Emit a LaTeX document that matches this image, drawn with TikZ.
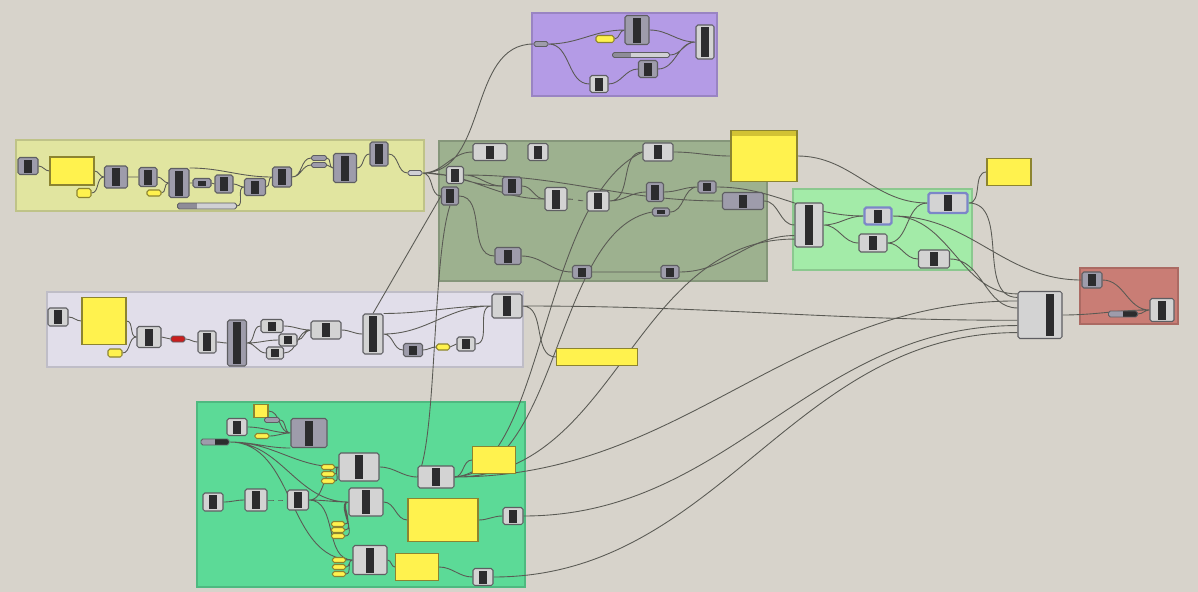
\documentclass[tikz,border=0pt]{standalone}
\definecolor{canvas}{HTML}{D7D3CB}
\definecolor{wirec}{HTML}{5A5A54}
\definecolor{compfill}{HTML}{D3D3D3}
\definecolor{compdark}{HTML}{9E9CAB}
\definecolor{compline}{HTML}{5E5E62}
\definecolor{stripc}{HTML}{2C2C2E}
\definecolor{panelc}{HTML}{FFF24E}
\definecolor{panelline}{HTML}{8C8430}
\definecolor{panelhead}{HTML}{D2C234}
\definecolor{sliderc}{HTML}{D0D0D4}
\definecolor{sliderdk}{HTML}{8E8C98}
\definecolor{redpar}{HTML}{C81E1E}
\definecolor{selc}{HTML}{7C86C8}
\definecolor{grpyellow}{HTML}{E1E5A0}
\definecolor{grpdkgreen}{HTML}{9DB18F}
\definecolor{grppurple}{HTML}{B49BE6}
\definecolor{grplavender}{HTML}{E1DEEA}
\definecolor{grpgreen}{HTML}{5CDA97}
\definecolor{grplight}{HTML}{A3EBA8}
\definecolor{grpred}{HTML}{C97D75}
\pgfdeclarelayer{back}
\pgfdeclarelayer{wires}
\pgfsetlayers{back,wires,main}
\tikzset{
  sz/.style 2 args={minimum width=#1*0.02cm, minimum height=#2*0.02cm},
  grp/.style={fill=#1, draw=#1!85!black, line width=0.6pt},
  comp/.style={draw=compline, fill=compfill, line width=0.6pt, rounded corners=1pt, inner sep=0pt,
    path picture={\fill[stripc, sharp corners] ([xshift=-0.075cm,yshift=0.04cm]path picture bounding box.south)
      rectangle ([xshift=0.075cm,yshift=-0.04cm]path picture bounding box.north);}},
  compd/.style={comp, fill=compdark},
  compr/.style={comp, path picture={\fill[stripc, sharp corners] ([xshift=0.12cm,yshift=0.05cm]path picture bounding box.south)
      rectangle ([xshift=0.28cm,yshift=-0.05cm]path picture bounding box.north);}},
  sel/.style={draw=selc, line width=1.3pt},
  panel/.style={draw=panelline, fill=panelc, line width=0.6pt, inner sep=0pt},
  hpanel/.style={panel, path picture={\fill[panelhead] (path picture bounding box.north west)
      rectangle ([yshift=-0.1cm]path picture bounding box.north east);}},
  ypar/.style={panel, rounded corners=1pt},
  gpar/.style={draw=compline, fill=compdark, line width=0.5pt, rounded corners=1pt, inner sep=0pt},
  lpar/.style={gpar, fill=sliderc},
  rpar/.style={gpar, fill=redpar},
  kpar/.style={gpar, path picture={\fill[stripc, sharp corners] (path picture bounding box.south)
      rectangle (path picture bounding box.north east);}},
  slider/.style={gpar, fill=sliderc, path picture={\fill[sliderdk, sharp corners] (path picture bounding box.south west)
      rectangle ([xshift=-0.2cm]path picture bounding box.north);}},
  wire/.style={draw=wirec, line width=0.5pt, out=0, in=180}
}
\begin{document}
\begin{tikzpicture}[x=0.02cm,y=-0.02cm]
  % canvas and groups
  \begin{pgfonlayer}{back}
  \fill[canvas] (0,0) rectangle (1198,592);
  \filldraw[grp=grpyellow] (16,140) rectangle (424,211);
  \filldraw[grp=grpdkgreen] (439,141) rectangle (767,281);
  \filldraw[grp=grppurple] (532,13) rectangle (717,96);
  \filldraw[grp=grplavender] (47,292) rectangle (523,367);
  \filldraw[grp=grpgreen] (197,402) rectangle (525,587);
  \filldraw[grp=grplight] (793,189) rectangle (972,270);
  \filldraw[grp=grpred] (1080,268) rectangle (1178,324);
  \end{pgfonlayer}

  % yellow group
  \node[compd, sz={20}{17}] (y1) at (28,166) {};
  \node[panel, sz={44}{28}] (ypan) at (72,171) {};
  \node[ypar, sz={14}{9}] (ysm1) at (84,193) {};
  \node[compd, sz={23}{22}] (y2) at (116,177) {};
  \node[compd, sz={18}{19}] (y3) at (148,177) {};
  \node[ypar, sz={14}{6}] (ysm2) at (154,193) {};
  \node[compd, sz={20}{29}] (y4) at (179,183) {};
  \node[compd, sz={18}{9}] (y5) at (202,183) {};
  \node[compd, sz={18}{18}] (y6) at (224,184) {};
  \node[compd, sz={21}{17}] (y7) at (255,187) {};
  \node[slider, sz={59}{6}] (yslide) at (207,206) {};
  \node[compd, sz={19}{20}] (y8) at (282,177) {};
  \node[gpar, sz={15}{5}] (yp1) at (319,158) {};
  \node[gpar, sz={15}{5}] (yp2) at (319,165) {};
  \node[compd, sz={23}{29}] (y9) at (345,168) {};
  \node[compd, sz={18}{24}] (y10) at (379,154) {};
  \node[lpar, sz={14}{5}] (yout) at (415,173) {};

  % dark green group
  \node[comp, sz={34}{17}] (g1) at (490,152) {};
  \node[comp, sz={20}{17}] (g2) at (538,152) {};
  \node[comp, sz={30}{18}] (g3) at (658,152) {};
  \node[comp, sz={17}{17}] (g4) at (455,175) {};
  \node[compd, sz={17}{18}] (g5) at (450,196) {};
  \node[compd, sz={19}{18}] (g6) at (512,186) {};
  \node[comp, sz={22}{23}] (g7) at (556,199) {};
  \node[comp, sz={22}{20}] (g8) at (598,201) {};
  \node[compd, sz={17}{19}] (g9) at (655,192) {};
  \node[compd, sz={18}{12}] (g10) at (707,187) {};
  \node[compd, sz={17}{8}] (g11) at (661,212) {};
  \node[compd, sz={41}{17}] (g12) at (743,201) {};
  \node[compd, sz={26}{17}] (g13) at (508,256) {};
  \node[compd, sz={19}{13}] (g14) at (582,272) {};
  \node[compd, sz={18}{13}] (g15) at (670,272) {};
  \node[hpanel, sz={66}{51}] (gpan) at (764,156) {};

  % purple group
  \node[gpar, sz={14}{5}] (p0) at (541,44) {};
  \node[compd, sz={24}{29}] (p1) at (637,30) {};
  \node[ypar, sz={18}{7}] (psm) at (605,39) {};
  \node[comp, sz={18}{34}] (p2) at (705,42) {};
  \node[slider, sz={57}{5}] (pslide) at (641,55) {};
  \node[compd, sz={19}{17}] (p3) at (648,69) {};
  \node[comp, sz={18}{17}] (p4) at (599,84) {};

  % lavender group
  \node[comp, sz={20}{18}] (l1) at (58,317) {};
  \node[panel, sz={44}{47}] (lpan) at (104,321) {};
  \node[ypar, sz={14}{8}] (lsm1) at (115,353) {};
  \node[comp, sz={24}{21}] (l2) at (149,337) {};
  \node[rpar, sz={14}{6}] (lred) at (178,339) {};
  \node[comp, sz={18}{22}] (l3) at (207,342) {};
  \node[compd, sz={19}{46}] (l4) at (237,343) {};
  \node[comp, sz={22}{13}] (l5) at (272,326) {};
  \node[comp, sz={18}{12}] (l6) at (288,340) {};
  \node[comp, sz={17}{12}] (l7) at (275,353) {};
  \node[comp, sz={30}{18}] (l8) at (326,330) {};
  \node[comp, sz={20}{40}] (l9) at (373,334) {};
  \node[compd, sz={19}{13}] (l10) at (413,350) {};
  \node[ypar, sz={13}{6}] (lsm2) at (443,347) {};
  \node[comp, sz={18}{14}] (l11) at (466,344) {};
  \node[comp, sz={30}{24}] (l12) at (507,306) {};
  \node[panel, sz={81}{17}] (lpan2) at (597,357) {};

  % bright green group
  \node[panel, sz={14}{13}] (bsm1) at (261,411) {};
  \node[gpar, sz={15}{5}] (bp1) at (272,420) {};
  \node[comp, sz={20}{17}] (b1) at (237,427) {};
  \node[compd, sz={36}{29}] (b2) at (309,433) {};
  \node[ypar, sz={14}{5}] (bsm2) at (262,436) {};
  \node[kpar, sz={28}{6}] (bin) at (215,442) {};
  \node[comp, sz={40}{28}] (b3) at (359,467) {};
  \node[ypar, sz={13}{5}] (bs1) at (328,467) {};
  \node[ypar, sz={13}{5}] (bs2) at (328,474) {};
  \node[ypar, sz={13}{5}] (bs3) at (328,481) {};
  \node[comp, sz={36}{22}] (b4) at (436,477) {};
  \node[panel, sz={43}{27}] (bpan1) at (494,460) {};
  \node[comp, sz={20}{18}] (b5) at (213,502) {};
  \node[comp, sz={22}{22}] (b6) at (256,500) {};
  \node[comp, sz={21}{20}] (b7) at (298,500) {};
  \node[comp, sz={34}{28}] (b8) at (366,502) {};
  \node[ypar, sz={13}{5}] (bs4) at (338,524) {};
  \node[ypar, sz={13}{5}] (bs5) at (338,530) {};
  \node[ypar, sz={13}{5}] (bs6) at (338,536) {};
  \node[panel, sz={70}{43}] (bpan2) at (443,520) {};
  \node[comp, sz={20}{17}] (b9) at (513,516) {};
  \node[comp, sz={34}{29}] (b10) at (370,560) {};
  \node[ypar, sz={13}{5}] (bs7) at (339,560) {};
  \node[ypar, sz={13}{5}] (bs8) at (339,567) {};
  \node[ypar, sz={13}{5}] (bs9) at (339,574) {};
  \node[panel, sz={43}{27}] (bpan3) at (417,567) {};
  \node[comp, sz={20}{17}] (b11) at (483,577) {};

  % light green group and output
  \node[comp, sz={28}{44}] (n1) at (809,225) {};
  \node[comp, sel, sz={27}{17}] (n2) at (878,216) {};
  \node[comp, sz={28}{18}] (n3) at (873,243) {};
  \node[comp, sel, sz={39}{20}] (n4) at (948,203) {};
  \node[comp, sz={31}{18}] (n5) at (934,259) {};
  \node[panel, sz={44}{27}] (npan) at (1009,172) {};
  \node[compr, sz={44}{47}] (merge) at (1040,315) {};

  % red group
  \node[compd, sz={20}{16}] (r1) at (1092,280) {};
  \node[kpar, sz={29}{6}] (r2) at (1123,314) {};
  \node[comp, sz={24}{23}] (r3) at (1162,310) {};

  \begin{pgfonlayer}{wires}
  % wires, yellow group
  \draw[wire] (y1.east) to (ypan.west) (ypan.east) to (y2.west) (ysm1.east) to (y2.west)
    (y2.east) to (y3.west) (y3.east) to (y4.west) (ysm2.east) to (y4.west)
    (y4.east) to (y5.west) (y5.east) to (y6.west) (y6.east) to (y7.west)
    (yslide.east) to (y7.west) (y4.north east) to (y8.west) (y7.east) to (y8.west)
    (y8.east) to (yp1.west) (y8.east) to (yp2.west) (yp1.east) to (y9.west)
    (yp2.east) to (y9.west) (y9.east) to (y10.west) (y10.east) to (yout.west);
  \draw[wire] (yout.east) to (g4.west) (yout.east) to (g6.west) (yout.east) to (g7.west)
    (yout.east) to (g1.west) (yout.east) to (g5.west) (yout.east) to (p0.west);
  % wires, dark green group
  \draw[wire] (g4.east) to (g6.west) (g6.east) to (g7.west) (g8.east) to (g9.west)
    (g9.east) to (g10.west) (g8.east) to (g3.west) (g3.east) to (gpan.west)
    (g11.east) to (g10.west) (g4.east) to (g12.west) (g12.east) to (n1.west)
    (g5.east) to (g13.west) (g13.east) to (g14.west) (g14.east) to (g15.west)
    (g15.east) to ([yshift=-6pt]n1.west) (g10.east) to (n2.west) (gpan.east) to (n4.west);
  \draw[wire, dashed] (g7.east) to (g8.west);
  % wires, purple group
  \draw[wire] (p0.east) to (p1.west) (p0.east) to (p4.west) (psm.east) to (p1.west)
    (p1.east) to (p2.west) (pslide.east) to (p2.west) (p4.east) to (p3.west)
    (p3.east) to (p2.west);
  % wires, lavender group
  \draw[wire] (l1.east) to (lpan.west) (lpan.east) to (l2.west) (lsm1.east) to (l2.west)
    (l2.east) to (lred.west) (lred.east) to (l3.west) (l3.east) to (l4.west)
    (l4.east) to (l5.west) (l4.east) to (l6.west) (l4.east) to (l7.west)
    (l5.east) to (l8.west) (l6.east) to (l8.west) (l7.east) to (l8.west)
    (l8.east) to (l9.west) (l9.east) to (l12.west) (l9.north east) to (l12.west)
    (l9.east) to (l10.west) (l10.east) to (lsm2.west) (lsm2.east) to (l11.west)
    (l11.east) to (l12.west) (l12.east) to (lpan2.west) (l12.east) to ([yshift=-3pt]merge.west);
  \draw[wire] (l9.north) -- (g5.west);
  % wires, bright green group
  \draw[wire] (b1.east) to (b2.west) (bsm1.east) to (b2.west) (bp1.east) to (b2.west)
    (bsm2.east) to (b2.west) (bin.east) to (b3.west) (bin.east) to (b8.west)
    (bin.east) to (b10.west) (bin.east) to (b2.south west)
    (b5.east) to (b6.west) (b7.east) to (b3.west) (b7.east) to (b8.west)
    (b7.east) to (b10.west) (bs1.east) to (b3.west) (bs2.east) to (b3.west)
    (bs3.east) to (b3.west) (bs4.east) to (b8.west) (bs5.east) to (b8.west)
    (bs6.east) to (b8.west) (bs7.east) to (b10.west) (bs8.east) to (b10.west)
    (bs9.east) to (b10.west) (b3.east) to (b4.west) (b4.east) to (bpan1.west)
    (b8.east) to (bpan2.west) (bpan2.east) to (b9.west) (b10.east) to (bpan3.west)
    (bpan3.east) to (b11.west);
  \draw[wire, dashed] (b6.east) to (b7.west);
  % long wires
  \draw[wire] (b4.east) to ([yshift=8pt]merge.west) (b4.east) to ([yshift=-8pt]n1.west)
    (b9.east) to ([yshift=-6pt]merge.west) (b11.east) to ([yshift=-10pt]merge.west);
  \draw[wire] (b4.east) .. controls (545,470) and (540,200) .. (g3.west);
  \draw[wire] (b4.east) .. controls (560,470) and (555,230) .. (g11.west);
  \draw[wire] (g5.south) .. controls (432,260) and (437,440) .. (b4.west);
  % wires, light green and red groups
  \draw[wire] (n1.east) to (n2.west) (n1.east) to (n3.west) (n3.east) to (n4.west)
    (n3.east) to (n5.west) (n2.east) to (r1.west) (n2.east) to ([yshift=12pt]merge.west)
    (n4.east) to ([yshift=10pt]merge.west) (n4.east) to (npan.west)
    (n5.east) to ([yshift=4pt]merge.west) (merge.east) to (r3.west)
    (r1.east) to (r3.west) (r2.east) to (r3.west);
  \end{pgfonlayer}
\end{tikzpicture}
\end{document}
